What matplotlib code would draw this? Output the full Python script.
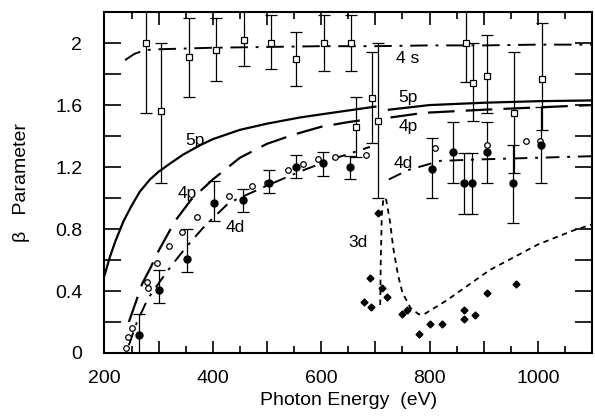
import numpy as np
import matplotlib
matplotlib.use('Agg')
import matplotlib.pyplot as plt
from matplotlib.ticker import MultipleLocator, FuncFormatter

plt.rcParams['font.family'] = ['Liberation Sans', 'DejaVu Sans']

# theory curves (photon energy eV, beta)
e_4s = [238, 255, 275, 300, 400, 500, 600, 700, 800, 900, 1000, 1100]
b_4s = [1.89, 1.93, 1.955, 1.96, 1.97, 1.975, 1.98, 1.98, 1.985, 1.985, 1.99, 1.99]

e_5p = [200, 210, 220, 235, 250, 265, 284, 300, 320, 345, 376, 400, 450, 500, 561, 600, 640, 700]
b_5p = [0.50, 0.62, 0.72, 0.85, 0.95, 1.04, 1.12, 1.17, 1.22, 1.28, 1.34, 1.38, 1.44, 1.48, 1.52, 1.54, 1.56, 1.59]
e_5p2 = [725, 800, 900, 1000, 1100]
b_5p2 = [1.57, 1.60, 1.615, 1.625, 1.63]

e_4p = [245, 255, 270, 285, 300, 330, 360, 400, 450, 500, 550, 600, 650, 690]
b_4p = [0.20, 0.30, 0.45, 0.55, 0.66, 0.85, 0.99, 1.12, 1.26, 1.35, 1.41, 1.46, 1.49, 1.51]
e_4p2 = [728, 790, 900, 1000, 1100]
b_4p2 = [1.52, 1.55, 1.57, 1.585, 1.60]

e_4d = [245, 260, 280, 300, 325, 350, 380, 400, 430, 500, 560, 620, 690]
b_4d = [0.05, 0.20, 0.35, 0.45, 0.57, 0.68, 0.80, 0.87, 0.97, 1.08, 1.17, 1.25, 1.33]
e_4d2 = [725, 760, 820, 900, 1000, 1100]
b_4d2 = [1.12, 1.18, 1.24, 1.25, 1.26, 1.27]

e_3d = [709, 710, 712, 715, 720, 727, 733, 742, 750, 765, 780, 790, 832, 911, 1000, 1065, 1100]
b_3d = [0.31, 0.60, 0.90, 1.00, 0.99, 0.85, 0.68, 0.50, 0.39, 0.29, 0.25, 0.25, 0.34, 0.535, 0.70, 0.79, 0.83]

# 4s data (open squares)
e_sq = [276, 304, 356, 406, 457, 507, 554, 605, 655, 664, 694, 705, 867, 880, 906, 956, 1008]
b_sq = [2.00, 1.56, 1.91, 1.955, 2.02, 2.00, 1.90, 2.00, 2.00, 1.46, 1.645, 1.50, 2.00, 1.74, 1.79, 1.55, 1.77]
hi_sq = [2.30, 2.00, 2.16, 2.16, 2.30, 2.18, 2.07, 2.18, 2.18, 1.65, 1.94, 2.00, 2.30, 2.00, 2.05, 1.94, 2.13]
lo_sq = [1.55, 1.10, 1.65, 1.755, 1.85, 1.83, 1.72, 1.82, 1.82, 1.265, 1.355, 1.00, 1.75, 1.50, 1.55, 1.16, 1.44]

# 4d data (filled circles)
e_fc = [264, 301, 352, 402, 455, 503, 554, 604, 653, 805, 844, 864, 879, 906, 954, 1006]
b_fc = [0.115, 0.405, 0.605, 0.965, 0.99, 1.10, 1.20, 1.225, 1.20, 1.19, 1.30, 1.10, 1.10, 1.30, 1.10, 1.34]
hi_fc = [0.25, 0.535, 0.80, 1.11, 1.06, 1.18, 1.28, 1.30, 1.27, 1.39, 1.49, 1.29, 1.29, 1.49, 1.34, 1.59]
lo_fc = [0.0, 0.32, 0.52, 0.85, 0.91, 1.03, 1.13, 1.14, 1.12, 1.00, 1.10, 0.90, 0.90, 1.10, 0.84, 1.10]

# 4d data, second set (open circles)
e_oc = [240, 244, 250, 278, 281, 297, 320, 343, 371, 430, 472, 500, 539, 567, 594, 625, 683, 810, 906, 978, 1004]
b_oc = [0.03, 0.10, 0.16, 0.46, 0.42, 0.58, 0.69, 0.78, 0.88, 1.01, 1.08, 1.10, 1.18, 1.22, 1.25, 1.265, 1.28, 1.32, 1.34, 1.37, 1.37]

# 3d data (filled diamonds)
e_dm = [705, 690, 712, 679, 692, 721, 749, 758, 780, 801, 823, 864, 864, 884, 906, 960]
b_dm = [0.905, 0.485, 0.42, 0.33, 0.30, 0.36, 0.25, 0.28, 0.12, 0.19, 0.19, 0.28, 0.22, 0.245, 0.39, 0.445]

fig = plt.figure(figsize=(5.95, 4.17), dpi=100)
ax = fig.add_axes([0.1756, 0.1535, 0.8194, 0.8175])

lw = 1.6
ax.plot(e_4s, b_4s, color='black', lw=1.4, dashes=(9, 4, 1.5, 4))
ax.plot(e_5p, b_5p, color='black', lw=lw)
ax.plot(e_5p2, b_5p2, color='black', lw=lw)
ax.plot(e_4p, b_4p, color='black', lw=lw, dashes=(12, 5))
ax.plot(e_4p2, b_4p2, color='black', lw=lw, dashes=(12, 5))
ax.plot(e_4d, b_4d, color='black', lw=1.4, dashes=(7, 4, 1.5, 4))
ax.plot(e_4d2, b_4d2, color='black', lw=1.4, dashes=(7, 4, 1.5, 4))
ax.plot(e_3d, b_3d, color='black', lw=1.3, dashes=(3, 2.5))

sq = np.array(b_sq)
ax.errorbar(e_sq, b_sq, yerr=[sq - np.array(lo_sq), np.array(hi_sq) - sq], fmt='s',
            ms=5, mfc='white', mec='black', mew=0.9, ecolor='black', elinewidth=0.9,
            capsize=4.5, capthick=0.9)
fc = np.array(b_fc)
ax.errorbar(e_fc, b_fc, yerr=[fc - np.array(lo_fc), np.array(hi_fc) - fc], fmt='o',
            ms=5, mfc='black', mec='black', ecolor='black', elinewidth=0.9,
            capsize=4.5, capthick=0.9)
ax.plot(e_oc, b_oc, 'o', ms=4, mfc='white', mec='black', mew=0.9)
ax.plot(e_dm, b_dm, 'D', ms=3.5, color='black')

fs = 14
lfs = 12.5
ax.text(760, 1.90, '4 s', fontsize=lfs, ha='center', va='center')
ax.text(760, 1.65, '5p', fontsize=lfs, ha='center', va='center')
ax.text(760, 1.46, '4p', fontsize=lfs, ha='center', va='center')
ax.text(752, 1.22, '4d', fontsize=lfs, ha='center', va='center')
ax.text(668, 0.71, '3d', fontsize=lfs, ha='center', va='center')
ax.text(367, 1.37, '5p', fontsize=lfs, ha='center', va='center')
ax.text(352, 1.03, '4p', fontsize=lfs, ha='center', va='center')
ax.text(441, 0.81, '4d', fontsize=lfs, ha='center', va='center')

ax.set_xlim(200, 1100)
ax.set_ylim(0, 2.2)
ax.xaxis.set_major_locator(MultipleLocator(100))
ax.xaxis.set_minor_locator(MultipleLocator(50))
ax.yaxis.set_major_locator(MultipleLocator(0.2))
ax.xaxis.set_major_formatter(FuncFormatter(lambda v, p: '%d' % v if round(v) % 200 == 0 and v < 1100 else ''))
ax.yaxis.set_major_formatter(FuncFormatter(lambda v, p: ('%g' % round(v, 1)) if abs(v / 0.4 - round(v / 0.4)) < 1e-6 and v < 2.1 else ''))
ax.tick_params(which='both', direction='in', top=True, right=True, width=1.2, labelsize=fs)
ax.tick_params(axis='x', which='major', length=9, pad=12)
ax.tick_params(axis='x', which='minor', length=5)
ax.tick_params(axis='y', which='major', length=12, pad=16)
for s in ax.spines.values():
    s.set_linewidth(1.5)

ax.set_xlabel('Photon Energy  (eV)', fontsize=fs, labelpad=4)
ax.set_ylabel('β   Parameter', fontsize=fs, labelpad=18)

fig.savefig('out.png', dpi=100)
